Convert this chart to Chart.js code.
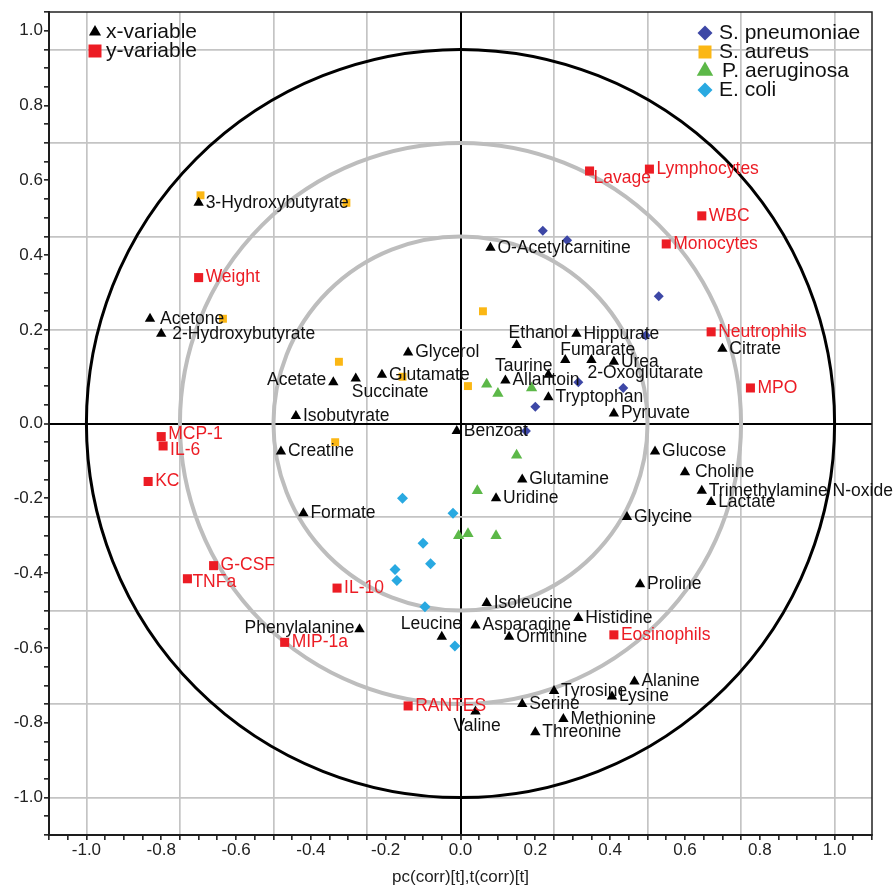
<!DOCTYPE html>
<html>
<head>
<meta charset="utf-8">
<title>Loading plot</title>
<script src="https://cdn.jsdelivr.net/npm/chart.js@4.4.1/dist/chart.umd.min.js"></script>
<style>
  html, body { margin: 0; padding: 0; background: #fff; }
  canvas { display: block; }
</style>
</head>
<body>
<canvas id="chart" width="896" height="888"></canvas>
<script>
// x-variables (black triangles)
const xVarNames = ['3-Hydroxybutyrate', 'Acetone', '2-Hydroxybutyrate', 'Glycerol', 'Glutamate', 'Succinate',
  'Acetate', 'Isobutyrate', 'Creatine', 'Formate', 'Phenylalanine', 'Leucine', 'O-Acetylcarnitine', 'Ethanol',
  'Hippurate', 'Fumarate', '2-Oxoglutarate', 'Urea', 'Taurine', 'Allantoin', 'Tryptophan', 'Pyruvate', 'Citrate',
  'Benzoat', 'Glucose', 'Choline', 'Glutamine', 'Trimethylamine N-oxide', 'Lactate', 'Uridine', 'Glycine',
  'Proline', 'Isoleucine', 'Histidine', 'Asparagine', 'Ornithine', 'Alanine', 'Tyrosine', 'Lysine', 'Serine',
  'Valine', 'Methionine', 'Threonine'];
const xVarX = [-0.70, -0.83, -0.80, -0.14, -0.21, -0.28, -0.34, -0.44, -0.48, -0.42, -0.27, -0.05, 0.08, 0.15,
  0.31, 0.28, 0.35, 0.41, 0.235, 0.12, 0.235, 0.41, 0.70, -0.01, 0.52, 0.60, 0.165, 0.645, 0.67, 0.095, 0.445,
  0.48, 0.07, 0.315, 0.04, 0.13, 0.465, 0.25, 0.405, 0.165, 0.04, 0.275, 0.20];
const xVarY = [0.59, 0.28, 0.24, 0.19, 0.13, 0.12, 0.11, 0.02, -0.075, -0.24, -0.55, -0.57, 0.47, 0.21,
  0.24, 0.17, 0.17, 0.165, 0.13, 0.115, 0.07, 0.027, 0.20, -0.02, -0.075, -0.13, -0.15, -0.18, -0.21, -0.20, -0.25,
  -0.43, -0.48, -0.52, -0.54, -0.57, -0.69, -0.715, -0.73, -0.75, -0.77, -0.79, -0.825];

// y-variables (red squares)
const yVarNames = ['Weight', 'MCP-1', 'IL-6', 'KC', 'G-CSF', 'TNFa', 'IL-10', 'MIP-1a', 'RANTES', 'Lavage',
  'Lymphocytes', 'WBC', 'Monocytes', 'Neutrophils', 'MPO', 'Eosinophils'];
const yVarX = [-0.70, -0.80, -0.795, -0.835, -0.66, -0.73, -0.33, -0.47, -0.14, 0.345, 0.505, 0.645, 0.55, 0.67, 0.775, 0.41];
const yVarY = [0.39, -0.035, -0.06, -0.155, -0.38, -0.415, -0.44, -0.585, -0.755, 0.675, 0.68, 0.555, 0.48, 0.245, 0.095, -0.565];

// scores of the four infection groups
const spnX = [0.22, 0.285, 0.53, 0.495, 0.315, 0.435, 0.20, 0.175];
const spnY = [0.515, 0.49, 0.34, 0.235, 0.11, 0.095, 0.045, -0.02];
const saurX = [-0.695, -0.305, -0.635, -0.325, -0.155, -0.335, 0.06, 0.02];
const saurY = [0.61, 0.59, 0.28, 0.165, 0.125, -0.05, 0.30, 0.10];
const paerX = [0.07, 0.10, 0.19, 0.15, 0.045, -0.005, 0.02, 0.095];
const paerY = [0.105, 0.08, 0.095, -0.085, -0.18, -0.30, -0.295, -0.30];
const ecoliX = [-0.155, -0.02, -0.10, -0.08, -0.175, -0.17, -0.095, -0.015];
const ecoliY = [-0.20, -0.24, -0.32, -0.375, -0.39, -0.42, -0.49, -0.595];

// axes
const axisMin = -1.1;
const axisMax = 1.1;
const minorStep = 0.05;
const gridValues = [-1, -0.75, -0.5, -0.25, 0, 0.25, 0.5, 0.75, 1];
const xLabelValues = [-1, -0.8, -0.6, -0.4, -0.2, 0, 0.2, 0.4, 0.6, 0.8, 1];
const xLabelText = ['-1.0', '-0.8', '-0.6', '-0.4', '-0.2', '0.0', '0.2', '0.4', '0.6', '0.8', '1.0'];
// the positive y labels sit one minor tick above their grid line in the original
const yLabelValues = [-1, -0.8, -0.6, -0.4, -0.2, 0, 0.25, 0.45, 0.65, 0.85, 1.05];
const yLabelText = ['-1.0', '-0.8', '-0.6', '-0.4', '-0.2', '0.0', '0.2', '0.4', '0.6', '0.8', '1.0'];
const circleRadii = [1, 0.75, 0.5];

const FONT = '"Liberation Sans", Arial, Helvetica, sans-serif';
const RED = '#ec1c24';

// label placement tweaks (pixels), default is right of the marker
const labelPlacement = {
  'Acetate': { dx: -7, dy: -2, align: 'right' },
  'Succinate': { dx: -4, dy: 14 },
  'Phenylalanine': { dx: -5, dy: -1, align: 'right' },
  'Leucine': { dx: -41, dy: -13 },
  'Ethanol': { dx: -8, dy: -12 },
  'Fumarate': { dx: -5, dy: -10 },
  '2-Oxoglutarate': { dx: -4, dy: 13 },
  'Taurine': { dx: 4, dy: -9, align: 'right' },
  'Valine': { dx: -22, dy: 15 },
  'Lavage': { dx: 4, dy: 7 },
  'Acetone': { dx: 10 },
  '2-Hydroxybutyrate': { dx: 11 },
  'Choline': { dx: 10 },
  'TNFa': { dx: 5, dy: 3 },
  'IL-6': { dx: 7, dy: 4 },
  'MCP-1': { dx: 7, dy: -2 }
};

function toPoints(xs, ys) {
  return xs.map((x, i) => ({ x: x, y: ys[i] }));
}

function near(a, b) {
  return Math.abs(a - b) < 1e-6;
}

function minorTicks() {
  const ticks = [];
  const n = Math.round((axisMax - axisMin) / minorStep);
  for (let k = 0; k <= n; k++) {
    ticks.push({ value: Math.round((axisMin + k * minorStep) * 1000) / 1000 });
  }
  return ticks;
}

function gridColor(ctx) {
  const v = ctx.tick ? ctx.tick.value : NaN;
  if (near(v, 0)) return '#000';
  return gridValues.some(g => near(g, v)) ? '#c4c4c4' : 'rgba(0,0,0,0)';
}

function gridWidth(ctx) {
  return ctx.tick && near(ctx.tick.value, 0) ? 2 : 1.7;
}

// small marker shapes for the legends
function shape(ctx, style, x, y, r, color) {
  ctx.fillStyle = color;
  ctx.beginPath();
  if (style === 'triangle') {
    ctx.moveTo(x, y - r);
    ctx.lineTo(x + r * 0.866, y + r / 2);
    ctx.lineTo(x - r * 0.866, y + r / 2);
  } else if (style === 'rect') {
    ctx.rect(x - r, y - r, 2 * r, 2 * r);
  } else {
    ctx.moveTo(x, y - r);
    ctx.lineTo(x + r, y);
    ctx.lineTo(x, y + r);
    ctx.lineTo(x - r, y);
  }
  ctx.closePath();
  ctx.fill();
}

const decorPlugin = {
  id: 'decor',
  beforeDatasetsDraw(chart) {
    const ctx = chart.ctx;
    const xs = chart.scales.x, ys = chart.scales.y;
    const ca = chart.chartArea;
    const cx = xs.getPixelForValue(0), cy = ys.getPixelForValue(0);
    ctx.save();
    ctx.beginPath();
    ctx.rect(ca.left, ca.top, ca.width, ca.height);
    ctx.clip();
    circleRadii.forEach(r => {
      const rx = xs.getPixelForValue(r) - cx;
      const ry = cy - ys.getPixelForValue(r);
      ctx.beginPath();
      ctx.ellipse(cx, cy, rx, ry, 0, 0, Math.PI * 2);
      ctx.strokeStyle = r === 1 ? '#000' : '#bdbdbd';
      ctx.lineWidth = r === 1 ? 3 : 4;
      ctx.stroke();
    });
    ctx.restore();
  },
  afterDatasetsDraw(chart) {
    const ctx = chart.ctx;
    const ca = chart.chartArea;
    ctx.save();

    // frame
    ctx.strokeStyle = '#222';
    ctx.lineWidth = 1.5;
    ctx.strokeRect(ca.left, ca.top, ca.width, ca.height);

    // point labels
    ctx.font = '17.5px ' + FONT;
    ctx.textBaseline = 'middle';
    [[0, xVarNames, '#111'], [1, yVarNames, RED]].forEach(([di, names, color]) => {
      chart.getDatasetMeta(di).data.forEach((pt, i) => {
        const p = labelPlacement[names[i]] || {};
        ctx.fillStyle = color;
        ctx.textAlign = p.align || 'left';
        ctx.fillText(names[i], pt.x + (p.dx !== undefined ? p.dx : 7), pt.y + (p.dy || 0));
      });
    });

    // legends
    ctx.font = '21px ' + FONT;
    ctx.textAlign = 'left';
    ctx.fillStyle = '#111';
    const leftItems = [
      ['x-variable', 'triangle', '#000', 7],
      ['y-variable', 'rect', RED, 6.5]
    ];
    leftItems.forEach((it, i) => {
      const y = ca.top + 20 + i * 19;
      shape(ctx, it[1], ca.left + 46, y, it[3], it[2]);
      ctx.fillStyle = '#111';
      ctx.fillText(it[0], ca.left + 57, y);
    });
    const rightItems = [
      ['S. pneumoniae', 'diamond', '#3d47a6', 7.5],
      ['S. aureus', 'rect', '#fbb714', 6.5],
      ['P. aeruginosa', 'triangle', '#5cb848', 9.5],
      ['E. coli', 'diamond', '#29a9e1', 7.5]
    ];
    rightItems.forEach((it, i) => {
      const y = ca.top + 21 + i * 19;
      shape(ctx, it[1], ca.right - 167, y, it[3], it[2]);
      ctx.fillStyle = '#111';
      ctx.fillText(it[0], ca.right - 153 + (i === 2 ? 3 : 0), y);
    });
    ctx.restore();
  }
};

const tickFont = { family: FONT, size: 17 };

new Chart(document.getElementById('chart'), {
  type: 'scatter',
  data: {
    datasets: [
      { label: 'x-variable', data: toPoints(xVarX, xVarY), pointStyle: 'triangle', pointRadius: 6,
        backgroundColor: '#000', borderColor: '#000', borderWidth: 0 },
      { label: 'y-variable', data: toPoints(yVarX, yVarY), pointStyle: 'rect', pointRadius: 6.4,
        backgroundColor: RED, borderColor: RED, borderWidth: 0 },
      { label: 'S. pneumoniae', data: toPoints(spnX, spnY), pointStyle: 'rectRot', pointRadius: 5,
        backgroundColor: '#3d47a6', borderColor: '#3d47a6', borderWidth: 0 },
      { label: 'S. aureus', data: toPoints(saurX, saurY), pointStyle: 'rect', pointRadius: 5.6,
        backgroundColor: '#fbb714', borderColor: '#fbb714', borderWidth: 0 },
      { label: 'P. aeruginosa', data: toPoints(paerX, paerY), pointStyle: 'triangle', pointRadius: 6.5,
        backgroundColor: '#5cb848', borderColor: '#5cb848', borderWidth: 0 },
      { label: 'E. coli', data: toPoints(ecoliX, ecoliY), pointStyle: 'rectRot', pointRadius: 5.5,
        backgroundColor: '#29a9e1', borderColor: '#29a9e1', borderWidth: 0 }
    ]
  },
  options: {
    responsive: false,
    devicePixelRatio: 1,
    animation: false,
    layout: { padding: { top: 12, right: 24, left: 0, bottom: 0 } },
    plugins: {
      legend: { display: false },
      tooltip: { enabled: false }
    },
    scales: {
      x: {
        type: 'linear',
        min: axisMin,
        max: axisMax,
        afterBuildTicks: scale => { scale.ticks = minorTicks(); },
        afterFit: scale => { scale.height = 53; },
        ticks: {
          autoSkip: false,
          maxRotation: 0,
          padding: 0,
          color: '#222',
          font: tickFont,
          callback: value => {
            const i = xLabelValues.findIndex(v => near(v, value));
            return i >= 0 ? xLabelText[i] : '';
          }
        },
        grid: { color: gridColor, lineWidth: gridWidth, tickColor: '#111', tickLength: 5, tickWidth: 1.5 },
        border: { display: true, color: '#111', width: 2 },
        title: { display: true, text: 'pc(corr)[t],t(corr)[t]', color: '#222', font: tickFont, padding: { top: 0, bottom: 0 } }
      },
      y: {
        type: 'linear',
        min: axisMin,
        max: axisMax,
        afterBuildTicks: scale => { scale.ticks = minorTicks(); },
        afterFit: scale => { scale.width = 49; },
        ticks: {
          autoSkip: false,
          padding: 1,
          color: '#222',
          font: tickFont,
          callback: value => {
            const i = yLabelValues.findIndex(v => near(v, value));
            return i >= 0 ? yLabelText[i] : '';
          }
        },
        grid: { color: gridColor, lineWidth: gridWidth, tickColor: '#111', tickLength: 5, tickWidth: 1.5 },
        border: { display: true, color: '#111', width: 2 }
      }
    }
  },
  plugins: [decorPlugin]
});
</script>
</body>
</html>
